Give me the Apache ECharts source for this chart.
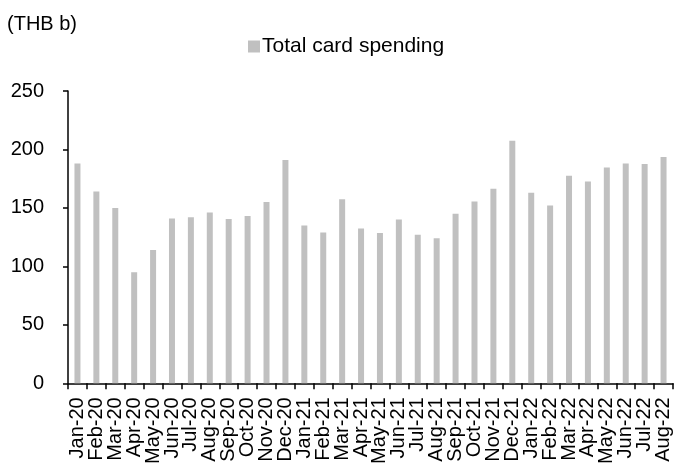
<!DOCTYPE html>
<html><head><meta charset="utf-8">
<script src="https://cdn.jsdelivr.net/npm/echarts@6/dist/echarts.min.js"></script>
<style>html,body{margin:0;padding:0;background:#fff}#c{width:675px;height:467px}</style>
</head><body><div id="c"></div>
<script>
const categories = ["Jan-20","Feb-20","Mar-20","Apr-20","May-20","Jun-20","Jul-20","Aug-20","Sep-20","Oct-20","Nov-20","Dec-20","Jan-21","Feb-21","Mar-21","Apr-21","May-21","Jun-21","Jul-21","Aug-21","Sep-21","Oct-21","Nov-21","Dec-21","Jan-22","Feb-22","Mar-22","Apr-22","May-22","Jun-22","Jul-22","Aug-22"];
const spending = [188,164,150,95,114,141,142,146,140.5,143,155,191,135,129,157.5,132.5,128.5,140,127,124,145,155.5,166.5,207.5,163,152,177.5,172.5,184.5,188,187.5,193.5];
const seriesName = "Total card spending";
const unitLabel = "(THB b)";
const chart = echarts.init(document.getElementById('c'));
const font = "Liberation Sans, Arial, sans-serif";
chart.setOption({
  animation:false,
  graphic:[{type:'text',left:7,top:14,style:{text:unitLabel,font:"20px "+font,fill:'#000'}}],
  legend:{top:31,left:243,itemWidth:12,itemHeight:12,itemGap:4,icon:'rect',
    textStyle:{fontFamily:font,fontSize:21,color:'#000',padding:[0,0,0,-3]},data:[seriesName]},
  grid:{left:68,right:2,top:91,bottom:83,containLabel:false},
  xAxis:{type:'category',data:categories,
    axisLine:{lineStyle:{color:'#000',width:1.5}},
    axisTick:{show:true,length:6,lineStyle:{color:'#000',width:1.5},alignWithLabel:false},
    axisLabel:{rotate:90,interval:0,margin:14,fontFamily:font,fontSize:20,color:'#000'}},
  yAxis:{type:'value',min:0,max:250,interval:50,
    splitLine:{show:false},
    axisLine:{show:true,lineStyle:{color:'#000',width:1.5}},
    axisTick:{show:true,length:5,lineStyle:{color:'#000',width:1.5}},
    axisLabel:{margin:24,fontFamily:font,fontSize:20,color:'#000'}},
  series:[{name:seriesName,type:'bar',data:spending,barWidth:6,itemStyle:{color:'#c0c0c0'}}]
});
</script></body></html>
